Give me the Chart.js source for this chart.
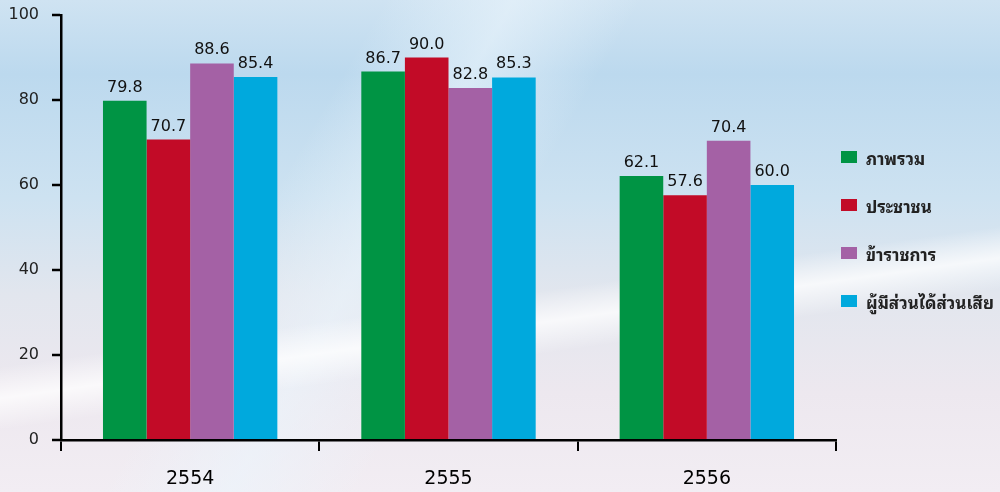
<!DOCTYPE html>
<html>
<head>
<meta charset="utf-8">
<script src="https://cdn.jsdelivr.net/npm/chart.js@4.4.1/dist/chart.umd.min.js"></script>
<style>
  html, body { margin: 0; padding: 0; }
  body {
    width: 1000px; height: 492px; overflow: hidden; position: relative;
    background:
      linear-gradient(172deg, rgba(255,255,255,0) 58%, rgba(255,255,255,0.75) 63%, rgba(255,255,255,0) 68%),
      linear-gradient(120deg, rgba(255,255,255,0) 30%, rgba(235,245,252,0.6) 40%, rgba(255,255,255,0) 50%),
      linear-gradient(to bottom, #cfe3f2 0%, #bcd9ee 15%, #cde2f1 40%, #e2e6ee 60%, #ede8ef 80%, #f2edf3 100%);
  }
  #wrap { position: absolute; left: 0; top: 0; width: 1000px; height: 492px; }
  #legend { position: absolute; left: 841px; top: 150px; font-family: Tahoma, "Noto Sans Thai Looped", "Noto Sans Thai", "Noto Sans", "DejaVu Sans", sans-serif; }
  .item { position: relative; height: 48px; }
  .sw { position: absolute; left: 0; top: 1px; width: 16px; height: 12px; }
  .tx { position: absolute; left: 25px; top: -6px; font-size: 17px; font-weight: bold; color: #222; white-space: nowrap; }
</style>
</head>
<body>
<div id="wrap"><canvas id="c" width="1000" height="492"></canvas></div>
<div id="legend"></div>
<script>
const categories = ["2554", "2555", "2556"];
const seriesNames = ["ภาพรวม", "ประชาชน", "ข้าราชการ", "ผู้มีส่วนได้ส่วนเสีย"];
const overall = [79.8, 86.7, 62.1];
const citizens = [70.7, 90.0, 57.6];
const officials = [88.6, 82.8, 70.4];
const stakeholders = [85.4, 85.3, 60.0];
const yTicks = [0, 20, 40, 60, 80, 100];
const colors = ["#009444", "#c20b27", "#a461a5", "#00a9dd"];

const seriesValues = [overall, citizens, officials, stakeholders];
const datasets = seriesValues.map((vals, i) => ({
  label: seriesNames[i],
  data: vals,
  backgroundColor: colors[i],
  borderWidth: 0,
  categoryPercentage: 0.675,
  barPercentage: 1.0
}));

const valueLabels = {
  id: 'valueLabels',
  afterDatasetsDraw(chart) {
    const ctx = chart.ctx;
    ctx.save();
    ctx.font = '16px Tahoma, "DejaVu Sans", sans-serif';
    ctx.fillStyle = '#111';
    ctx.textAlign = 'center';
    ctx.textBaseline = 'alphabetic';
    chart.data.datasets.forEach((ds, di) => {
      const meta = chart.getDatasetMeta(di);
      meta.data.forEach((bar, i) => {
        ctx.fillText(ds.data[i].toFixed(1), bar.x, bar.y - 9);
      });
    });
    ctx.restore();
  }
};

new Chart(document.getElementById('c'), {
  type: 'bar',
  data: { labels: categories, datasets },
  options: {
    responsive: false,
    animation: false,
    layout: { padding: { top: 15, right: 164, left: 0, bottom: 0 } },
    plugins: { legend: { display: false }, tooltip: { enabled: false } },
    scales: {
      x: {
        grid: { display: true, drawOnChartArea: false, offset: true, color: '#000', lineWidth: 2, tickLength: 11, tickWidth: 2, tickColor: '#000' },
        border: { display: true, color: '#000', width: 2.5 },
        ticks: { color: '#000', font: { size: 19, family: 'Tahoma, "DejaVu Sans", sans-serif' }, padding: 17 },
        afterFit(s) { s.height = 52; s.paddingLeft = 0; s.paddingRight = 0; }
      },
      y: {
        min: 0, max: 100,
        afterBuildTicks(s) { s.ticks = yTicks.map(v => ({ value: v })); },
        grid: { display: true, drawOnChartArea: false, color: '#000', lineWidth: 2, tickLength: 9, tickWidth: 2.5, tickColor: '#000' },
        border: { display: true, color: '#000', width: 2.5 },
        ticks: { color: '#222', font: { size: 16, family: 'Tahoma, "DejaVu Sans", sans-serif' }, padding: 13 },
        afterFit(s) { s.width = 61; s.paddingTop = 0; s.paddingBottom = 0; }
      }
    }
  },
  plugins: [valueLabels]
});

const legend = document.getElementById('legend');
seriesNames.forEach((n, i) => {
  const it = document.createElement('div');
  it.className = 'item';
  it.innerHTML = '<div class="sw" style="background:' + colors[i] + '"></div><div class="tx">' + n + '</div>';
  legend.appendChild(it);
});
</script>
</body>
</html>
